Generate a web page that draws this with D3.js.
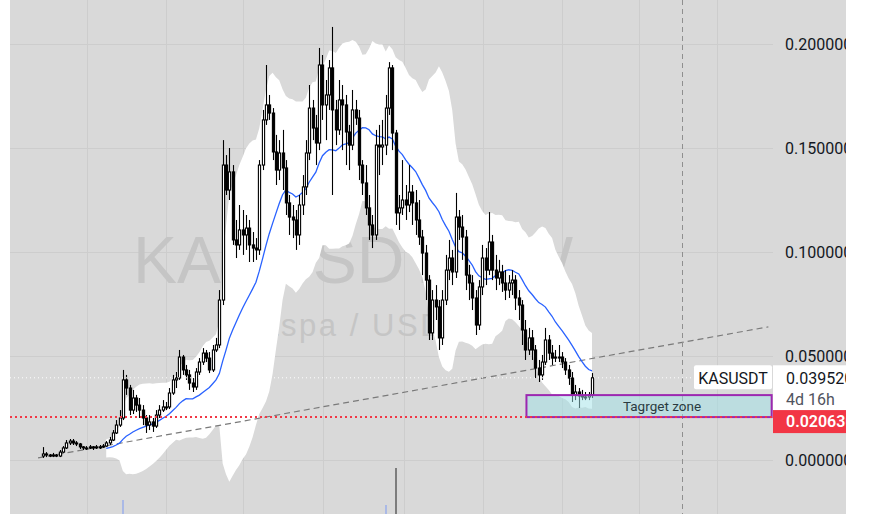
<!DOCTYPE html>
<html><head><meta charset="utf-8">
<script src="https://cdn.jsdelivr.net/npm/d3@7"></script>
<style>html,body{margin:0;padding:0;background:#fff;overflow:hidden}svg{display:block}</style>
</head><body><svg id="c" width="872" height="514"></svg>
<script>
// ---- data (KASUSDT, weekly) ----
const firstOpen = 0.0019;
const closes = [0.0029,0.0024,0.0019,0.0024,0.0019,0.0038,0.0058,0.0082,0.0091,0.0082,
0.0077,0.0063,0.0058,0.0058,0.0063,0.0058,0.0063,0.0063,0.0067,0.0082,
0.0096,0.0130,0.0168,0.0202,0.0385,0.0346,0.0240,0.0298,0.0264,0.0240,
0.0202,0.0168,0.0183,0.0163,0.0216,0.0240,0.0255,0.0255,0.0322,0.0385,
0.0394,0.0495,0.0433,0.0409,0.0370,0.0351,0.0423,0.0471,0.0514,0.0490,
0.0433,0.0529,0.0553,0.0769,0.1418,0.1298,0.1385,0.1058,0.1034,0.1106,
0.1082,0.1115,0.1034,0.1019,0.1010,0.1418,0.1635,0.1707,0.1668,0.1481,
0.1394,0.1476,0.1404,0.1236,0.1168,0.1154,0.1082,0.1226,0.1313,0.1476,
0.1692,0.1596,0.1524,0.1899,0.1707,0.1755,0.1885,0.1683,0.1587,0.1731,
0.1707,0.1577,0.1514,0.1683,0.1644,0.1418,0.1332,0.1212,0.1130,0.1082,
0.1514,0.1505,0.1514,0.1692,0.1885,0.1572,0.1188,0.1212,0.1250,0.1226,
0.1288,0.1236,0.1154,0.1072,0.0995,0.0865,0.0611,0.0769,0.0736,0.0587,
0.0769,0.0913,0.0971,0.0904,0.1168,0.1120,0.1072,0.0889,0.0851,0.0779,
0.0649,0.0832,0.0971,0.0913,0.1048,0.0913,0.0875,0.0904,0.0851,0.0817,
0.0851,0.0865,0.0779,0.0745,0.0625,0.0529,0.0587,0.0529,0.0442,0.0409,
0.0471,0.0577,0.0514,0.0490,0.0495,0.0495,0.0471,0.0433,0.0394,0.0313,
0.0327,0.0308,0.0303,0.0303,0.0313,0.03952];
const highs = [0.0062,0.0038,0.0029,0.0034,0.0029,0.0048,0.0067,0.0096,0.0101,0.0101,
0.0091,0.0082,0.0067,0.0067,0.0072,0.0067,0.0072,0.0072,0.0077,0.0091,
0.0111,0.0144,0.0192,0.0240,0.0433,0.0409,0.0361,0.0337,0.0313,0.0298,
0.0264,0.0216,0.0216,0.0202,0.0240,0.0264,0.0288,0.0279,0.0346,0.0409,
0.0423,0.0529,0.0505,0.0457,0.0433,0.0394,0.0442,0.0490,0.0538,0.0529,
0.0519,0.0553,0.0587,0.0817,0.1538,0.1466,0.1500,0.1418,0.1154,0.1226,
0.1202,0.1178,0.1154,0.1096,0.1067,0.1442,0.1683,0.1899,0.1755,0.1692,
0.1563,0.1538,0.1587,0.1442,0.1274,0.1226,0.1202,0.1274,0.1370,0.1538,
0.1803,0.1731,0.1659,0.1981,0.1947,0.1827,0.1923,0.2082,0.1731,0.1827,
0.1803,0.1755,0.1611,0.1779,0.1731,0.1683,0.1442,0.1418,0.1274,0.1178,
0.1587,0.1611,0.1635,0.1755,0.1913,0.1899,0.1587,0.1274,0.1442,0.1322,
0.1418,0.1322,0.1298,0.1250,0.1106,0.1034,0.0889,0.0817,0.0841,0.0769,
0.0817,0.0986,0.1058,0.1010,0.1284,0.1202,0.1178,0.1106,0.0938,0.0889,
0.0817,0.0865,0.1034,0.1019,0.1192,0.1082,0.0986,0.0962,0.0938,0.0913,
0.0889,0.0913,0.0889,0.0817,0.0769,0.0673,0.0635,0.0625,0.0553,0.0481,
0.0505,0.0635,0.0601,0.0553,0.0529,0.0553,0.0519,0.0490,0.0457,0.0423,
0.0361,0.0346,0.0337,0.0327,0.0327,0.0418];
const lows = [0.0010,0.0014,0.0014,0.0014,0.0014,0.0014,0.0034,0.0053,0.0072,0.0072,
0.0067,0.0053,0.0048,0.0048,0.0053,0.0048,0.0053,0.0053,0.0058,0.0063,
0.0072,0.0091,0.0125,0.0159,0.0192,0.0313,0.0216,0.0221,0.0231,0.0202,
0.0168,0.0130,0.0144,0.0135,0.0154,0.0202,0.0231,0.0240,0.0245,0.0313,
0.0346,0.0385,0.0409,0.0385,0.0337,0.0327,0.0337,0.0409,0.0457,0.0471,
0.0418,0.0423,0.0519,0.0538,0.0745,0.1274,0.1250,0.1034,0.0971,0.1010,
0.0986,0.1010,0.0952,0.0952,0.0962,0.0986,0.1394,0.1611,0.1635,0.1442,
0.1322,0.1346,0.1298,0.1178,0.1082,0.1067,0.1010,0.1034,0.1178,0.1274,
0.1442,0.1538,0.1418,0.1490,0.1635,0.1538,0.1683,0.1274,0.1514,0.1563,
0.1490,0.1418,0.1394,0.1490,0.1611,0.1346,0.1274,0.1178,0.1058,0.1019,
0.1058,0.1370,0.1418,0.1466,0.1659,0.1490,0.1130,0.1106,0.1178,0.1154,
0.1192,0.1130,0.1082,0.1034,0.0889,0.0769,0.0577,0.0577,0.0673,0.0529,
0.0553,0.0745,0.0865,0.0841,0.0875,0.1058,0.0962,0.0817,0.0769,0.0721,
0.0601,0.0625,0.0793,0.0841,0.0889,0.0865,0.0817,0.0841,0.0808,0.0769,
0.0779,0.0793,0.0721,0.0673,0.0553,0.0481,0.0505,0.0481,0.0394,0.0375,
0.0385,0.0457,0.0481,0.0457,0.0471,0.0471,0.0442,0.0409,0.0361,0.0279,
0.0288,0.0250,0.0288,0.0288,0.0288,0.0298];
const priceTicks = [0, 0.05, 0.10, 0.15, 0.20];
const timeGridIdx = [13.2, 36.9, 60.1, 84.1, 108.4, 132.1, 155.9, 179, 202.7];
const cursorIdx = 191.9;
const trendIdx = [-1.5, 218];
const trendPrice = [0.0010, 0.0640];
const zoneIdx = [145.3, 219];
const zonePrice = [0.02063, 0.0312];
const zoneLabel = "Tagrget zone";
const lastPrice = 0.03952;
const alertPrice = 0.02063;
const symbol = "KASUSDT";
const countdown = "4d 16h";
const watermark = ["KASUSDT, 1W", "Kaspa / USDT"];
const volIdx = [24, 103, 106];
const volVal = [14, 9, 46];
const bbLen = 20, bbMult = 2;

// ---- layout ----
const W = 872, H = 514;
const plotL = 10, plotR = 773, axisR = 846;
const FONT = "Roboto, Liberation Sans, sans-serif";
const svg = d3.select("#c");
const x = d3.scaleLinear().domain([0, closes.length - 1]).range([43, 592]);
const y = d3.scaleLinear().domain([0, 0.2]).range([460, 44]);
const vy = d3.scaleLinear().domain([0, 46]).range([514, 468]);

svg.append("rect").attr("x", plotL).attr("y", 0).attr("width", axisR - plotL).attr("height", H).attr("fill", "#d9d9d9");
const defs = svg.append("defs");
defs.append("clipPath").attr("id", "pc").append("rect").attr("x", plotL).attr("y", 0).attr("width", plotR - plotL).attr("height", H);
const g = svg.append("g").attr("clip-path", "url(#pc)");

// grid
g.selectAll("line.hg").data(priceTicks).join("line")
  .attr("x1", plotL).attr("x2", plotR).attr("y1", d => Math.round(y(d)) + 0.5).attr("y2", d => Math.round(y(d)) + 0.5)
  .attr("stroke", "#cdcdcd").attr("stroke-width", 1);
g.selectAll("line.vg").data(timeGridIdx).join("line")
  .attr("x1", d => Math.round(x(d)) + 0.5).attr("x2", d => Math.round(x(d)) + 0.5).attr("y1", 0).attr("y2", H)
  .attr("stroke", "#cdcdcd").attr("stroke-width", 1);

// watermark
g.append("text").attr("x", 133).attr("y", 283).attr("font-family", "Liberation Sans, Arial, sans-serif")
  .attr("font-size", 66).attr("fill", "#c5c5c5").text(watermark[0]);
g.append("text").attr("x", 351).attr("y", 336).attr("text-anchor", "middle").attr("font-family", "Liberation Sans, Arial, sans-serif")
  .attr("font-size", 31).attr("fill", "#c5c5c5").attr("textLength", 226).text(watermark[1]);

// volume
g.selectAll("rect.vol").data(volIdx).join("rect")
  .attr("x", d => Math.round(x(d)) - 1).attr("width", 2)
  .attr("y", (d, k) => vy(volVal[k])).attr("height", (d, k) => 514 - vy(volVal[k]))
  .attr("fill", d => closes[d] >= (d ? closes[d - 1] : firstOpen) ? "#aab9e6" : "#7d7d7d");

// Bollinger bands computed from closes
const bb = [];
for (let i = bbLen - 1; i < closes.length; i++) {
  const w = closes.slice(i - bbLen + 1, i + 1);
  const m = d3.mean(w);
  const sd = Math.sqrt(d3.mean(w, v => (v - m) * (v - m)));
  bb.push({ i, m, up: m + bbMult * sd, lo: m - bbMult * sd });
}
g.append("path").datum(bb).attr("fill", "#ffffff")
  .attr("d", d3.area().x(d => x(d.i)).y0(d => y(d.lo)).y1(d => y(d.up)));

// trend line
g.append("line").attr("x1", x(trendIdx[0])).attr("y1", y(trendPrice[0])).attr("x2", x(trendIdx[1])).attr("y2", y(trendPrice[1]))
  .attr("stroke", "#7a7a7a").attr("stroke-width", 1.2).attr("stroke-dasharray", "6,4");

// basis
g.append("path").datum(bb).attr("fill", "none").attr("stroke", "#2962ff").attr("stroke-width", 1.3)
  .attr("d", d3.line().x(d => x(d.i)).y(d => y(d.m)));

// cursor vertical dashed line
g.append("line").attr("x1", Math.round(x(cursorIdx)) + 0.5).attr("x2", Math.round(x(cursorIdx)) + 0.5).attr("y1", 0).attr("y2", H)
  .attr("stroke", "#8f8f8f").attr("stroke-width", 1).attr("stroke-dasharray", "5,4");

// candles
const opens = closes.map((c, i) => i === 0 ? firstOpen : closes[i - 1]);
const cd = closes.map((c, i) => ({ i, o: opens[i], h: highs[i], l: lows[i], c }));
const cg = g.append("g");
cg.selectAll("line.w").data(cd).join("line")
  .attr("x1", d => Math.round(x(d.i)) + 0.5).attr("x2", d => Math.round(x(d.i)) + 0.5)
  .attr("y1", d => y(d.h)).attr("y2", d => y(d.l)).attr("stroke", "#000").attr("stroke-width", 1.1);
cg.selectAll("rect.b").data(cd).join("rect")
  .attr("x", d => Math.round(x(d.i)) - 0.6).attr("width", 2.2)
  .attr("y", d => y(Math.max(d.o, d.c))).attr("height", d => Math.max(1, Math.abs(y(d.o) - y(d.c))))
  .attr("fill", d => d.c >= d.o ? "#ffffff" : "#000000").attr("stroke", "#000").attr("stroke-width", 1.1);

// last price dotted line
g.append("line").attr("x1", plotL).attr("x2", 694).attr("y1", y(lastPrice)).attr("y2", y(lastPrice))
  .attr("stroke", "#ffffff").attr("stroke-width", 1).attr("stroke-dasharray", "1,3");

// target zone
g.append("rect").attr("x", x(zoneIdx[0])).attr("y", y(zonePrice[1]))
  .attr("width", x(zoneIdx[1]) - x(zoneIdx[0])).attr("height", y(zonePrice[0]) - y(zonePrice[1]))
  .attr("fill", "rgba(160,225,232,0.5)").attr("stroke", "#9c27b0").attr("stroke-width", 2);
g.append("text").attr("x", 662).attr("y", (y(zonePrice[0]) + y(zonePrice[1])) / 2).attr("dy", "0.35em")
  .attr("text-anchor", "middle").attr("font-family", FONT).attr("font-size", 13.5)
  .attr("fill", "#2a3b40").text(zoneLabel);

// alert red dotted line
g.append("line").attr("x1", plotL).attr("x2", plotR).attr("y1", y(alertPrice)).attr("y2", y(alertPrice))
  .attr("stroke", "#f23645").attr("stroke-width", 2).attr("stroke-dasharray", "2,3");

// price axis
const axisG = svg.append("g").attr("transform", "translate(785,0)")
  .call(d3.axisRight(y).tickValues(priceTicks).tickSize(0).tickPadding(0).tickFormat(d3.format(".6f")));
axisG.select(".domain").remove();
axisG.selectAll("text").attr("font-family", FONT).attr("font-size", 16).attr("fill", "#131722");

// symbol label
const yl = y(lastPrice);
svg.append("rect").attr("x", 694).attr("y", yl - 12.5).attr("width", 78).attr("height", 24).attr("rx", 2).attr("fill", "#ffffff");
svg.append("text").attr("x", 733).attr("y", yl).attr("dy", "0.36em").attr("text-anchor", "middle")
  .attr("font-family", FONT).attr("font-size", 16).attr("fill", "#131722").text(symbol);
svg.append("rect").attr("x", 773).attr("y", yl - 12.5).attr("width", axisR - 773).attr("height", 45).attr("fill", "#ffffff");
svg.append("text").attr("x", 786).attr("y", yl).attr("dy", "0.36em")
  .attr("font-family", FONT).attr("font-size", 16).attr("fill", "#131722").text(lastPrice.toFixed(6));
svg.append("text").attr("x", 786).attr("y", yl + 21).attr("dy", "0.36em")
  .attr("font-family", FONT).attr("font-size", 16).attr("fill", "#50535e").text(countdown);
// alert label
const ya = y(alertPrice);
svg.append("rect").attr("x", 773).attr("y", ya - 7).attr("width", axisR - 773).attr("height", 23).attr("fill", "#f23645");
svg.append("text").attr("x", 786).attr("y", ya + 4.5).attr("dy", "0.36em")
  .attr("font-family", FONT).attr("font-size", 16).attr("font-weight", 600).attr("fill", "#ffffff").text(alertPrice.toFixed(6));
// clip axis area at right
svg.append("rect").attr("x", axisR).attr("y", 0).attr("width", W - axisR).attr("height", H).attr("fill", "#ffffff");
</script></body></html>
